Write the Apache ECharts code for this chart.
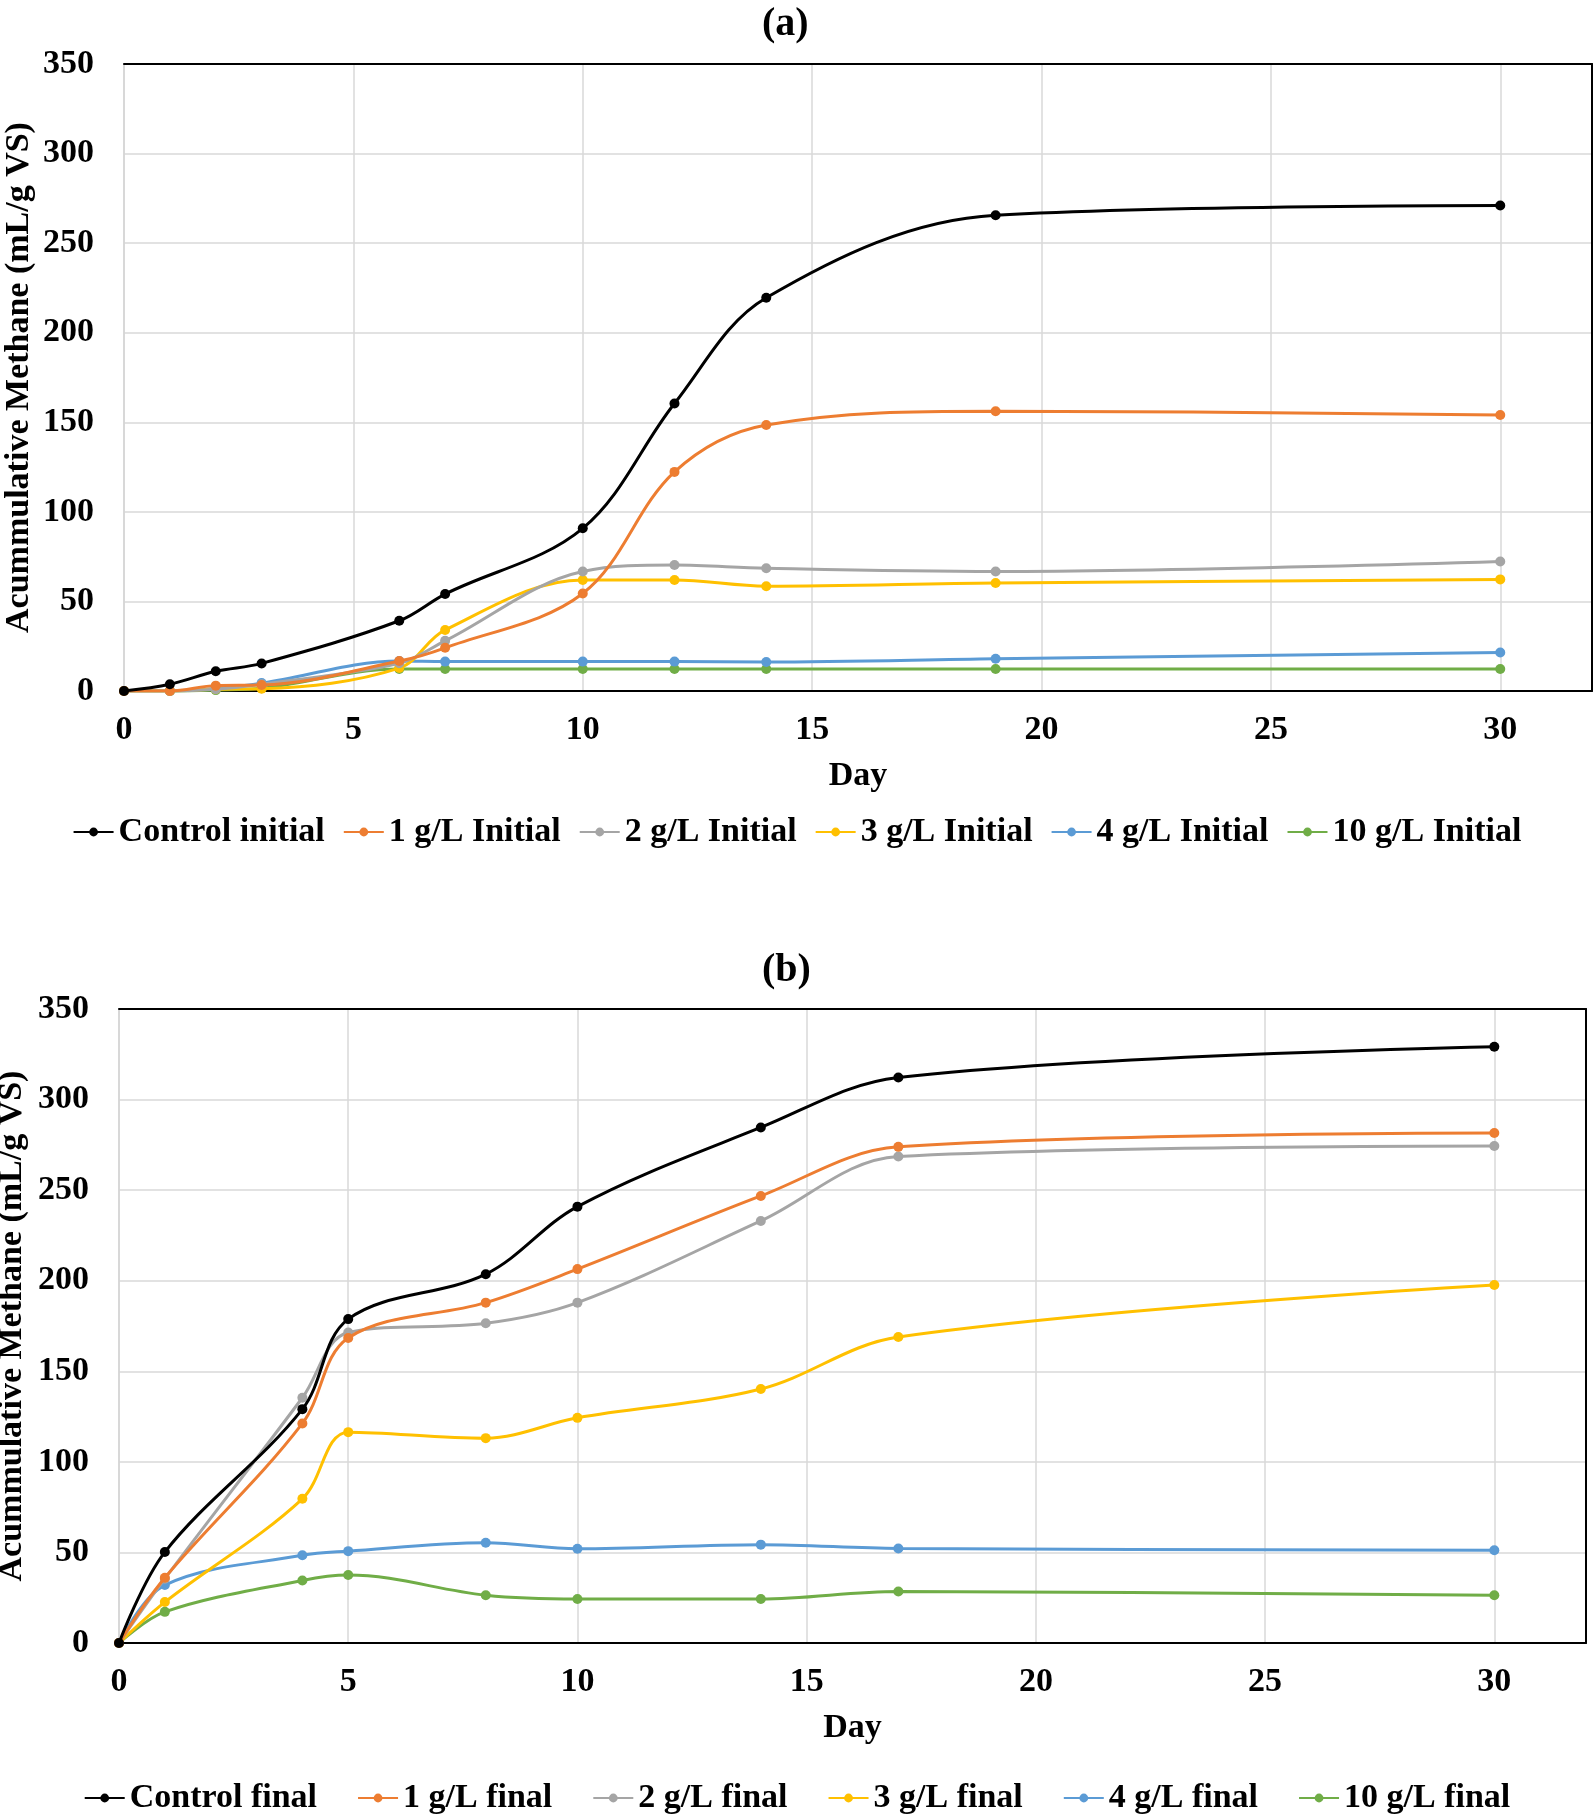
<!DOCTYPE html>
<html>
<head>
<meta charset="utf-8">
<script src="https://cdn.jsdelivr.net/npm/echarts@6/dist/echarts.min.js"></script>
<style>
html,body{margin:0;padding:0;background:#fff;}
#c{width:1594px;height:1816px;}
</style>
</head>
<body>
<div id="c"></div>
<script>
// ---- Data ----
const daysA = [0, 1, 2, 3, 6, 7, 10, 12, 14, 19, 30];
const controlInitial = [0, 3.8, 11, 15.4, 39.2, 54.1, 90.8, 160.5, 219.5, 265.6, 271];
const g1Initial = [0, 0, 3, 3.3, 16.7, 24.1, 54.4, 122.3, 148.5, 156.2, 154.1];
const g2Initial = [0, 0, 1, 3.8, 15.5, 28, 66.7, 70.3, 68.5, 66.7, 72.3];
const g3Initial = [0, 0, 1, 1.3, 12.8, 34.1, 62, 62, 58.5, 60.3, 62.3];
const g4Initial = [0, 0, 1.5, 4.4, 16.7, 16.4, 16.4, 16.4, 16.2, 18, 21.5];
const g10Initial = [0, 0, 0.5, 1.5, 12.3, 12.3, 12.3, 12.3, 12.3, 12.3, 12.3];

const daysB = [0, 1, 4, 5, 8, 10, 14, 17, 30];
const controlFinal = [0, 50.2, 129.1, 178.8, 203.6, 240.9, 284.6, 312.2, 329.2];
const g1Final = [0, 36, 121.2, 168.4, 187.9, 206.4, 246.8, 273.9, 281.5];
const g2Final = [0, 35.5, 135.4, 171.4, 176.5, 187.9, 233, 268.6, 274.4];
const g3Final = [0, 22.6, 79.6, 116.4, 113.1, 124.3, 140.2, 168.9, 197.6];
const g4Final = [0, 32, 48.4, 50.7, 55.3, 52, 54.3, 52.2, 51.2];
const g10Final = [0, 17.2, 34.5, 37.5, 26.4, 24.3, 24.3, 28.4, 26.4];

const namesA = ['Control initial', '1 g/L Initial', '2 g/L Initial', '3 g/L Initial', '4 g/L Initial', '10 g/L Initial'];
const namesB = ['Control final', '1 g/L final', '2 g/L final', '3 g/L final', '4 g/L final', '10 g/L final'];
const colors = ['#000000', '#ED7D31', '#A5A5A5', '#FFC000', '#5B9BD5', '#70AD47'];
const xTickLabels = [0, 5, 10, 15, 20, 25, 30];
const yTickLabels = [0, 50, 100, 150, 200, 250, 300, 350];
const panelTitles = ['(a)', '(b)'];
const xTitle = 'Day';
const yTitle = 'Acummulative Methane (mL/g VS)';

// ---- Chart ----
const FONT = 'Liberation Serif, Times New Roman, serif';
const seriesA = [controlInitial, g1Initial, g2Initial, g3Initial, g4Initial, g10Initial];
const seriesB = [controlFinal, g1Final, g2Final, g3Final, g4Final, g10Final];

function mk(names, days, vals, idx) {
  return names.map((n, i) => ({
    name: n,
    type: 'line',
    xAxisIndex: idx * 2,
    yAxisIndex: idx * 2,
    smooth: 0.35,
    symbol: 'circle',
    symbolSize: 10,
    color: colors[i],
    lineStyle: { width: 3, color: colors[i] },
    itemStyle: { color: colors[i] },
    z: 10 - i,
    data: days.map((d, j) => [d, vals[i][j]])
  }));
}

function xAx(idx) {
  return {
    type: 'value', gridIndex: idx, min: 0, max: 32, interval: 5, position: 'bottom',
    name: xTitle, nameLocation: 'middle', nameGap: 68, nameMoveOverlap: false,
    nameTextStyle: { fontFamily: FONT, fontWeight: 'bold', fontSize: 34, color: '#000' },
    axisLine: { show: true, onZero: false, lineStyle: { color: '#000', width: 2 } },
    axisTick: { show: false },
    axisLabel: { fontFamily: FONT, fontWeight: 'bold', fontSize: 34, color: '#000', margin: 22,
      formatter: v => xTickLabels.indexOf(v) >= 0 ? String(v) : '' },
    splitLine: { show: true, lineStyle: { color: '#d9d9d9', width: 1.5 } },
    z: 5
  };
}
function xTop(idx) {
  return {
    type: 'value', gridIndex: idx, min: 0, max: 32, interval: 5, position: 'top',
    axisLine: { show: true, onZero: false, lineStyle: { color: '#000', width: 2 } },
    axisTick: { show: false }, axisLabel: { show: false }, splitLine: { show: false }, z: 5
  };
}
function yAx(idx, gap) {
  return {
    type: 'value', gridIndex: idx, min: 0, max: 350, interval: 50, position: 'left',
    name: yTitle, nameLocation: 'middle', nameGap: gap, nameMoveOverlap: false,
    nameTextStyle: { fontFamily: FONT, fontWeight: 'bold', fontSize: 34, color: '#000' },
    axisLine: { show: true, onZero: false, lineStyle: { color: '#c8c8c8', width: 1.5 } },
    axisTick: { show: false },
    axisLabel: { fontFamily: FONT, fontWeight: 'bold', fontSize: 34, color: '#000', margin: 30,
      formatter: v => yTickLabels.indexOf(v) >= 0 ? String(v) : '' },
    splitLine: { show: true, lineStyle: { color: '#d9d9d9', width: 1.5 } }
  };
}
function yRight(idx) {
  return {
    type: 'value', gridIndex: idx, min: 0, max: 350, interval: 50, position: 'right',
    axisLine: { show: true, onZero: false, lineStyle: { color: '#000', width: 2 } },
    axisTick: { show: false }, axisLabel: { show: false }, splitLine: { show: false }, z: 5
  };
}
function leg(names, top, gap) {
  return {
    data: names, top: top, left: 'center', itemWidth: 40, itemHeight: 11, itemGap: gap,
    textStyle: { fontFamily: FONT, fontWeight: 'bold', fontSize: 34, color: '#000' },
    padding: 0
  };
}

const chart = echarts.init(document.getElementById('c'), null, { renderer: 'canvas' });
chart.setOption({
  backgroundColor: '#fff',
  animation: false,
  title: [
    { text: panelTitles[0], left: 762, top: 5, padding: 0,
      textStyle: { fontFamily: FONT, fontWeight: 'bold', fontSize: 40, color: '#000' } },
    { text: panelTitles[1], left: 762, top: 951, padding: 0,
      textStyle: { fontFamily: FONT, fontWeight: 'bold', fontSize: 40, color: '#000' } }
  ],
  legend: [leg(namesA, 815, 18), leg(namesB, 1781, 40)],
  grid: [
    { left: 124, right: 2, top: 64, height: 627, show: false, containLabel: false, outerBoundsMode: 'none' },
    { left: 119, right: 8, top: 1009, height: 634, show: false, containLabel: false, outerBoundsMode: 'none' }
  ],
  xAxis: [xAx(0), xTop(0), xAx(1), xTop(1)],
  yAxis: [yAx(0, 88), yRight(0), yAx(1, 90), yRight(1)],
  series: mk(namesA, daysA, seriesA, 0).concat(mk(namesB, daysB, seriesB, 1))
});
</script>
</body>
</html>
